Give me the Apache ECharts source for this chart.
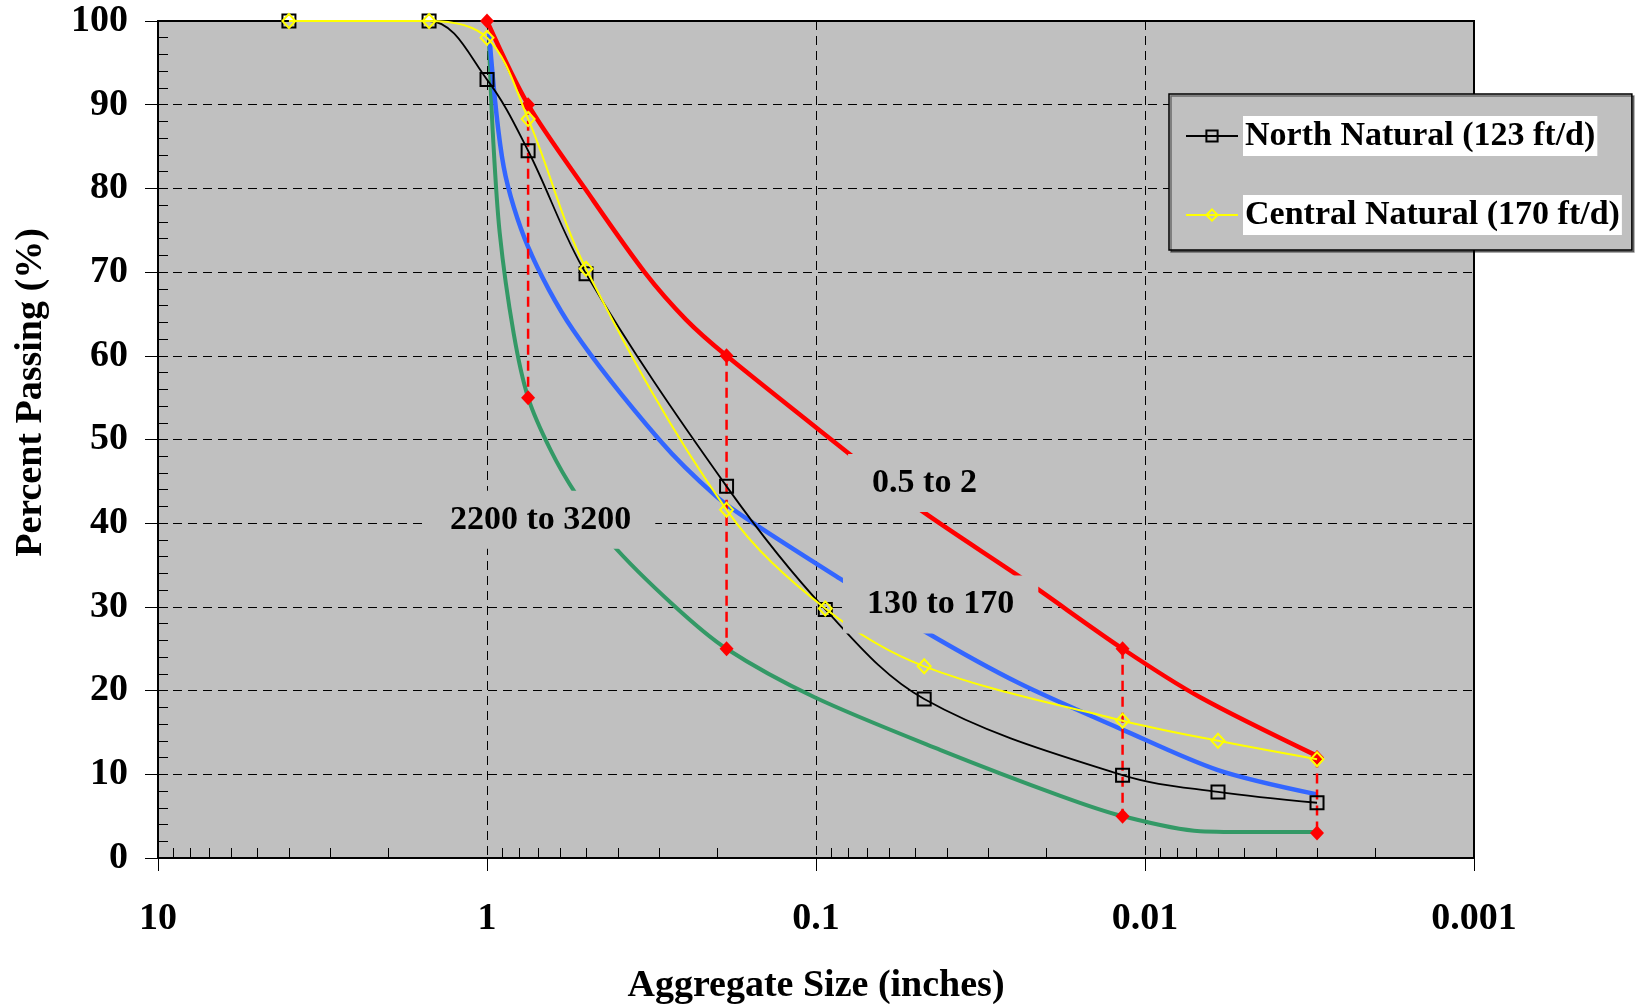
<!DOCTYPE html>
<html>
<head>
<meta charset="utf-8">
<script src="https://cdn.jsdelivr.net/npm/echarts@6/dist/echarts.min.js"></script>
<style>
  html, body { margin: 0; padding: 0; background: #fff; }
  #chart { width: 1644px; height: 1004px; }
</style>
</head>
<body>
<div id="chart"></div>
<script>
  // sieve sizes (inches) and the two measured gradations
  const sizes = [4, 1.5, 1, 0.75, 0.5, 0.187, 0.0937, 0.0469, 0.0117, 0.006, 0.003]
  const northNatural = [100, 100, 93, 84.5, 69.8, 44.4, 29.7, 19, 9.9, 7.9, 6.6]
  const centralNatural = [100, 100, 98, 88.3, 70.4, 41.6, 29.8, 22.9, 16.4, 14, 11.8]

  // envelope curves (size, percent)
  const redSizes = [1, 0.75, 0.5, 0.332, 0.248, 0.187, 0.077, 0.049, 0.023, 0.0117, 0.0068, 0.003]
  const redValues = [100, 90, 79.8, 70, 64.3, 60, 47.9, 41.8, 33.1, 25, 19.2, 12.2]
  const blueSizes = [0.985, 0.89, 0.75, 0.548, 0.2985, 0.201, 0.155, 0.0848, 0.0464, 0.0242, 0.0118, 0.006, 0.003]
  const blueValues = [98.5, 82.6, 73, 63.1, 49.9, 43.2, 40, 33.4, 27, 20.9, 15.4, 10.5, 7.6]
  const greenSizes = [0.985, 0.96, 0.915, 0.83, 0.75, 0.64, 0.537, 0.419, 0.271, 0.187, 0.101, 0.0418, 0.018, 0.0117, 0.0068, 0.0045, 0.003]
  const greenValues = [97, 86.6, 74.7, 62.7, 55, 48.7, 43.5, 37.6, 30.2, 25, 19.2, 12.9, 7.4, 5, 3.2, 3.1, 3.1]

  // red dashed ranges
  const rangeSizes = [0.75, 0.187, 0.0117, 0.003]
  const rangeTop = [90, 60, 25, 12]
  const rangeBottom = [55, 25, 5, 3]

  // curve labels
  const noteSizes = [0.0468, 0.0418, 0.687]
  const noteValues = [44.8, 30.3, 40.4]
  const noteTexts = ["0.5 to 2", "130 to 170", "2200 to 3200"]

  const xTickLabels = ["10", "1", "0.1", "0.01", "0.001"]
  const minorXTicks = []
  for (let e = -3; e < 1; e++) {
    for (let m = 2; m <= 9; m++) minorXTicks.push(+(m * Math.pow(10, e)).toPrecision(3))
  }

  const font = "'Liberation Serif', 'Times New Roman', serif"
  const zip = (xs, ys) => xs.map((x, i) => [x, ys[i]])

  const curve = (name, xs, ys, color, width) => ({
    name: name,
    type: "line",
    smooth: 0.3,
    showSymbol: false,
    symbol: "none",
    lineStyle: {color: color, width: width},
    itemStyle: {color: color},
    data: zip(xs, ys),
    z: 2
  })

  const series = [
    curve("2200 to 3200", greenSizes, greenValues, "#339966", 4),
    curve("130 to 170", blueSizes, blueValues, "#3366ff", 4.5),
    Object.assign(curve("0.5 to 2", redSizes, redValues, "#ff0000", 4.5), {
      showSymbol: true,
      symbol: (v, p) => p.dataIndex === 0 ? "diamond" : "none",
      symbolSize: [14, 15]
    })
  ]

  rangeSizes.forEach((s, i) => {
    series.push({
      name: "range" + i,
      type: "line",
      symbol: "diamond",
      symbolSize: [14, 15],
      lineStyle: {color: "#ff0000", width: 2.5, type: [10, 6]},
      itemStyle: {color: "#ff0000"},
      data: [[s, rangeTop[i]], [s, rangeBottom[i]]],
      z: 3
    })
  })

  series.push({
    name: "North Natural (123 ft/d)",
    type: "line",
    smooth: 0.35,
    symbol: "rect",
    symbolSize: 13,
    lineStyle: {color: "#000", width: 1.8},
    itemStyle: {color: "rgba(0,0,0,0)", borderColor: "#000", borderWidth: 2},
    data: zip(sizes, northNatural),
    z: 4
  })
  series.push({
    name: "Central Natural (170 ft/d)",
    type: "line",
    smooth: 0.35,
    symbol: "diamond",
    symbolSize: [13, 14],
    lineStyle: {color: "#ffff00", width: 2},
    itemStyle: {color: "rgba(0,0,0,0)", borderColor: "#ffff00", borderWidth: 2},
    data: zip(sizes, centralNatural),
    z: 5
  })
  series.push({
    name: "notes",
    type: "scatter",
    symbolSize: 0,
    itemStyle: {opacity: 1},
    data: zip(noteSizes, noteValues),
    label: {
      show: true,
      position: "inside",
      formatter: p => noteTexts[p.dataIndex],
      fontFamily: font,
      fontWeight: "bold",
      fontSize: 34,
      color: "#000",
      opacity: 1,
      backgroundColor: "#c0c0c0",
      padding: [12, 24]
    },
    z: 10
  })

  const myChart = echarts.init(document.getElementById("chart"))
  myChart.setOption({
    animation: false,
    textStyle: {fontFamily: font},
    grid: {
      left: 158,
      right: 170,
      top: 21,
      bottom: 146,
      outerBoundsMode: "none",
      containLabel: false,
      show: true,
      backgroundColor: "#c0c0c0",
      borderColor: "#000",
      borderWidth: 2
    },
    legend: {
      data: ["North Natural (123 ft/d)", "Central Natural (170 ft/d)"],
      orient: "vertical",
      left: 1169,
      top: 94,
      padding: [22, 10, 15, 16],
      itemWidth: 52,
      itemHeight: 14,
      itemGap: 39,
      backgroundColor: "#c0c0c0",
      borderColor: "#000",
      borderWidth: 1.5,
      shadowColor: "rgba(0,0,0,0.45)",
      shadowOffsetX: 2,
      shadowOffsetY: 2,
      textStyle: {
        fontFamily: font,
        fontWeight: "bold",
        fontSize: 34,
        color: "#000",
        backgroundColor: "#fff",
        lineHeight: 40,
        padding: [0, 2]
      },
      z: 20
    },
    xAxis: [
      {
        type: "log",
        logBase: 10,
        min: 0.001,
        max: 10,
        inverse: true,
        name: "Aggregate Size (inches)",
        nameLocation: "middle",
        nameGap: 109,
        nameTextStyle: {fontFamily: font, fontWeight: "bold", fontSize: 38, color: "#000"},
        axisLine: {lineStyle: {color: "#000", width: 2}},
        axisTick: {length: 13, lineStyle: {color: "#000", width: 1}},
        axisLabel: {
          margin: 42,
          fontFamily: font,
          fontWeight: "bold",
          fontSize: 38,
          color: "#000",
          formatter: v => xTickLabels[1 - Math.round(Math.log10(v))]
        },
        splitLine: {show: true, lineStyle: {color: "#000", width: 1, type: [9, 6]}}
      },
      {
        type: "log",
        logBase: 10,
        min: 0.001,
        max: 10,
        inverse: true,
        position: "bottom",
        axisLine: {show: false},
        axisLabel: {show: false},
        splitLine: {show: false},
        axisTick: {inside: true, length: 10, customValues: minorXTicks, lineStyle: {color: "#000", width: 1}}
      }
    ],
    yAxis: [
      {
        type: "value",
        min: 0,
        max: 100,
        interval: 10,
        name: "Percent Passing (%)",
        nameLocation: "middle",
        nameGap: 108,
        nameTextStyle: {fontFamily: font, fontWeight: "bold", fontSize: 38, color: "#000", padding: [0, 0, 0, 94]},
        axisLine: {show: true, lineStyle: {color: "#000", width: 2}},
        axisTick: {show: true, length: 13, lineStyle: {color: "#000", width: 1}},
        axisLabel: {margin: 30, fontFamily: font, fontWeight: "bold", fontSize: 38, color: "#000"},
        splitLine: {show: true, lineStyle: {color: "#000", width: 1, type: [9, 6]}}
      },
      {
        type: "value",
        min: 0,
        max: 100,
        interval: 2,
        position: "left",
        axisLine: {show: false},
        axisLabel: {show: false},
        splitLine: {show: false},
        axisTick: {show: true, inside: true, length: 10, lineStyle: {color: "#000", width: 1}}
      }
    ],
    series: series
  })
</script>
</body>
</html>
